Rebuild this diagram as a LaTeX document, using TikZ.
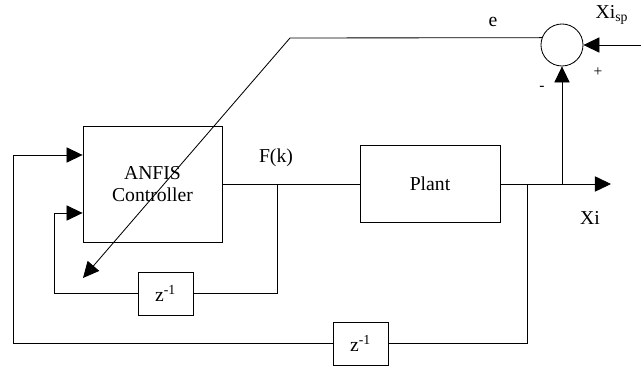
\documentclass[tikz,border=0pt]{standalone}
\usepackage{fontspec}
\setmainfont{Liberation Serif}
\usepackage{tikz}
\usetikzlibrary{positioning,calc,arrows.meta}

\begin{document}
\begin{tikzpicture}[x=0.025cm, y=-0.025cm,
  block/.style={rectangle, draw=black, fill=white, line width=0.6pt, inner sep=0pt, align=center, font=\fontsize{14}{16}\selectfont},
  delaybox/.style={block, minimum width=1.375cm, minimum height=1.075cm},
  sumnode/.style={circle, draw=black, line width=0.6pt, minimum size=1.05cm, inner sep=0pt},
  lbl/.style={inner sep=0pt, font=\fontsize{14}{16}\selectfont},
  line/.style={line width=0.6pt},
  arrow/.style={-{Triangle[length=0.4cm, width=0.38cm]}, line width=0.6pt}
]
  \useasboundingbox (0,0) rectangle (641,366);

  % Nodes
  \node[block, minimum width=3.475cm, minimum height=2.9cm] (anfis) at (152.5,184) {ANFIS\\Controller};
  \node[block, minimum width=3.5cm, minimum height=1.925cm] (plant) at (430,184) {Plant};
  \node[delaybox] (zinner) at (165.5,293.5) {z\textsuperscript{-1}};
  \node[delaybox] (zouter) at (360.5,343.5) {z\textsuperscript{-1}};
  \node[sumnode] (sum) at (562,45) {};

  % Branch points
  \coordinate (fk) at (277,184);
  \coordinate (xo) at (527,184);
  \coordinate (xs) at (562,184);
  \coordinate (xout) at (611,184);
  \coordinate (upin) at (13,155);
  \coordinate (lowin) at (54,213);
  \coordinate (ecorner) at (290,38);
  \coordinate (etip) at (83,278);
  \coordinate (spin) at (641,45);

  % Labels
  \node[lbl] (elbl) at (493,22) {e};
  \node[lbl] (fklbl) at (276,158) {F(k)};
  \node[lbl] (xilbl) at (590,218) {Xi};
  \node[lbl] (splbl) at (612,15) {Xi\textsubscript{sp}};
  \node[lbl, font=\fontsize{11}{12}\selectfont] (plus) at (598,72) {+};
  \node[lbl, font=\fontsize{11}{12}\selectfont] (minus) at (542,88) {-};

  % Connections
  \draw[line] (anfis.east) -- (plant.west);
  \draw[arrow] (plant.east) -- (xout);
  \draw[line] (fk) |- (zinner.east);
  \draw[arrow] (zinner.west) -| (lowin) -- (lowin -| anfis.west);
  \draw[line] (xo) |- (zouter.east);
  \draw[arrow] (zouter.west) -| (upin) -- (upin -| anfis.west);
  \draw[arrow] (xs) -- (sum.south);
  \draw[arrow] (spin) -- (sum.east);
  \draw[arrow] (sum.160) -- (ecorner) -- (etip);

\end{tikzpicture}
\end{document}
